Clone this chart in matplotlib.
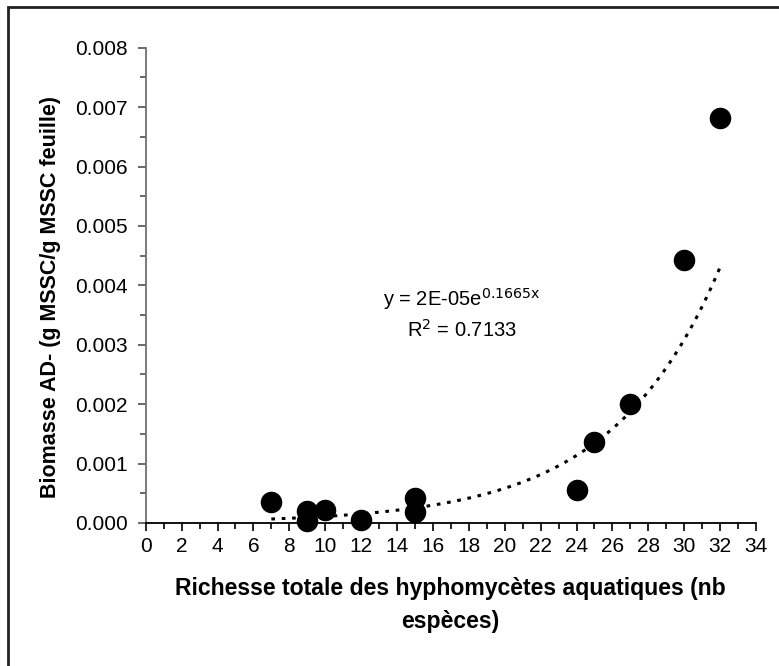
import numpy as np
import matplotlib
matplotlib.use("Agg")
import matplotlib.pyplot as plt
from matplotlib.patches import Rectangle
from matplotlib.ticker import MultipleLocator, FormatStrFormatter

plt.rcParams["font.family"] = ["Liberation Sans", "DejaVu Sans"]

# species richness vs. biomass
richness = [7, 9, 9, 10, 12, 15, 15, 24, 25, 27, 30, 32]
biomass = [0.00035, 0.00020, 0.00004, 0.00022, 0.00005, 0.00042,
           0.00019, 0.00056, 0.00136, 0.00200, 0.00442, 0.00682]

# exponential trendline y = a * exp(b * x), r^2
trend_a = 2.09e-5
trend_b = 0.1665
trend_r2 = 0.7133

fig = plt.figure(figsize=(7.79, 6.66), dpi=100)
ax = fig.add_axes((145.7 / 779, 1 - 523 / 666, 610.3 / 779, 475.3 / 666))

# outer chart frame (right/bottom edges fall outside the canvas)
fig.patches.append(Rectangle((7.5 / 779, -0.05), 1.2, 1 - 7.5 / 666 + 0.05,
                             transform=fig.transFigure, fill=False,
                             edgecolor="#222222", linewidth=2.0))

tx = np.linspace(min(richness), max(richness), 200)
ty = trend_a * np.exp(trend_b * tx)
ax.plot(tx, ty, color="black", linewidth=2.2, linestyle=(0, (1.2, 2.2)),
        zorder=2)
ax.scatter(richness, biomass, s=210, color="black", zorder=3,
           clip_on=False)

ax.set_xlim(0, 34)
ax.set_ylim(0, 0.008)
ax.xaxis.set_major_locator(MultipleLocator(2))
ax.xaxis.set_minor_locator(MultipleLocator(1))
ax.yaxis.set_major_locator(MultipleLocator(0.001))
ax.yaxis.set_minor_locator(MultipleLocator(0.0005))
ax.yaxis.set_major_formatter(FormatStrFormatter("%.3f"))

for side in ("top", "right"):
    ax.spines[side].set_visible(False)
ax.spines["bottom"].set_color("black")
ax.spines["bottom"].set_linewidth(1.3)
ax.spines["left"].set_color("#707070")
ax.spines["left"].set_linewidth(1.3)

ax.tick_params(axis="both", which="major", direction="out", length=6,
               width=1.2, labelsize=15, pad=7)
ax.tick_params(axis="both", which="minor", direction="out", length=4,
               width=1.2)
ax.tick_params(axis="y", which="both", color="#505050")
ax.tick_params(axis="x", which="major", pad=4)

ax.set_xlabel("Richesse totale des hyphomycètes aquatiques (nb\nespèces)",
              fontsize=16.6, fontweight="bold", linespacing=1.6,
              va="center")
ax.xaxis.set_label_coords(0.4995, (523 - 605) / 475.3)
ax.set_ylabel("Biomasse AD- (g MSSC/g MSSC feuille)", fontsize=15.5,
              fontweight="bold", va="center")
ax.yaxis.set_label_coords((51 - 145.7) / 610.3, (523 - 297) / 475.3)

ax.text(17.6, 0.00377, "y = 2E-05e$^{%.4f\\mathrm{x}}$" % trend_b,
        fontsize=14.5, ha="center", va="center")
ax.text(17.6, 0.00325, "R$^{2}$ = %.4f" % trend_r2, fontsize=14.5,
        ha="center", va="center")

fig.savefig("out.png", dpi=100)
